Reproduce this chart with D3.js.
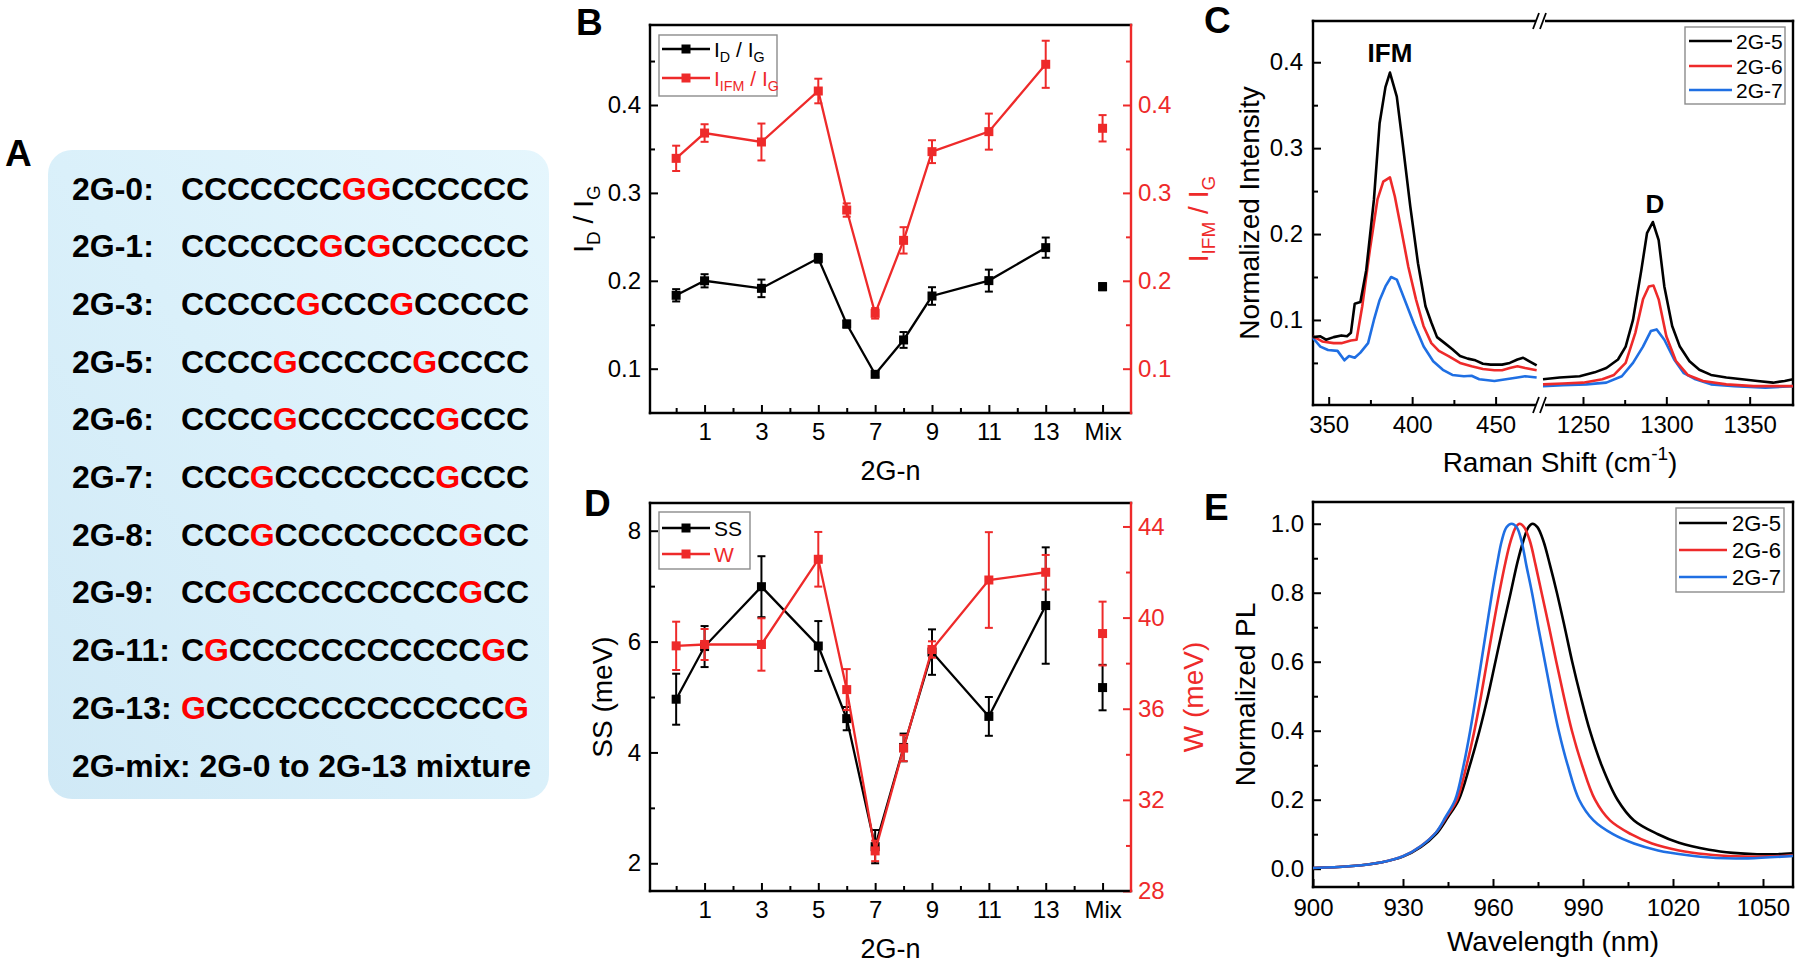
<!DOCTYPE html>
<html><head><meta charset="utf-8">
<script src="https://cdn.jsdelivr.net/npm/d3@7"></script>
<style>body{margin:0;background:#fff}</style>
</head><body>
<svg id="fig" width="1800" height="965" xmlns="http://www.w3.org/2000/svg"></svg>
<script>
// ================= DATA =================
// Panel A
const seqNames = ["2G-0:","2G-1:","2G-3:","2G-5:","2G-6:","2G-7:","2G-8:","2G-9:","2G-11:","2G-13:"];
const seqStrings = ["CCCCCCCGGCCCCCC","CCCCCCGCGCCCCCC","CCCCCGCCCGCCCCC","CCCCGCCCCCGCCCC","CCCCGCCCCCCGCCC",
                    "CCCGCCCCCCCGCCC","CCCGCCCCCCCCGCC","CCGCCCCCCCCCGCC","CGCCCCCCCCCCCGC","GCCCCCCCCCCCCCG"];
const mixText = "2G-mix: 2G-0 to 2G-13 mixture";

// Panels B & D (x = number of C between the two G; Mix placed at 15)
const nPos = [0,1,3,5,6,7,8,9,11,13];
const mixPos = 15;
const xTickVals = [1,3,5,7,9,11,13,15];
const xTickText = ["1","3","5","7","9","11","13","Mix"];
const xMinorVals = [0,2,4,6,8,10,12,14];

const idig    = [0.1835,0.2000,0.1914,0.2256,0.1508,0.0936,0.1327,0.1827,0.2002,0.2377];
const idigErr = [0.0070,0.0075,0.0100,0.0050,0.0040,0.0030,0.0090,0.0100,0.0125,0.0115];
const idigMix = 0.1933, idigMixErr = 0.004;
const ifmig    = [0.3393,0.3681,0.3579,0.4159,0.2805,0.1630,0.2460,0.3469,0.3697,0.4463];
const ifmigErr = [0.0144,0.0100,0.0210,0.0140,0.0076,0.0060,0.0150,0.0130,0.0205,0.0268];
const ifmigMix = 0.3735, ifmigMixErr = 0.015;
const bTicks = [0.1,0.2,0.3,0.4];
const bMinor = [0.15,0.25,0.35,0.45];

const ss    = [4.96,5.91,6.99,5.92,4.61,2.30,4.09,5.81,4.65,6.65];
const ssErr = [0.46,0.37,0.55,0.45,0.21,0.30,0.25,0.41,0.35,1.05];
const ssMix = 5.17, ssMixErr = 0.41;
const wv    = [38.76,38.82,38.82,42.56,36.84,29.76,34.27,38.60,41.65,41.99];
const wErr  = [1.06,0.68,1.15,1.20,0.90,0.45,0.57,0.36,2.10,0.76];
const wMix = 39.3, wMixErr = 1.4;
const dTicksL = [2,4,6,8], dMinorL = [3,5,7];
const dTicksR = [28,32,36,40,44], dMinorR = [30,34,38,42];

// Panel C (Raman, broken x axis)
const cTicksLeft = [350,400,450], cMinorLeft = [375,425];
const cTicksRight = [1250,1300,1350], cMinorRight = [1275,1325];
const cTicksY = [0.1,0.2,0.3,0.4], cMinorY = [0.05,0.15,0.25,0.35];
const raman5L = [[340.6,0.080],[345.0,0.081],[348.4,0.077],[353.0,0.080],[357.6,0.082],[361.0,0.081],[363.3,0.085],[365.6,0.119],[369.0,0.121],[372.5,0.158],[377.1,0.240],[380.5,0.329],[384.0,0.371],[386.7,0.388],[390.8,0.360],[394.3,0.306],[398.9,0.232],[403.5,0.166],[408.0,0.116],[411.5,0.097],[414.9,0.080],[419.5,0.073],[424.1,0.066],[428.7,0.058],[433.3,0.055],[437.9,0.053],[442.4,0.049],[447.0,0.048],[453.9,0.048],[458.5,0.050],[463.1,0.054],[466.5,0.056],[470.0,0.052],[474.6,0.047]];
const raman6L = [[340.6,0.081],[346.1,0.075],[353.0,0.073],[357.6,0.073],[363.3,0.076],[366.7,0.077],[370.1,0.116],[374.7,0.182],[379.2,0.240],[382.7,0.261],[386.7,0.266],[389.6,0.244],[393.1,0.209],[397.7,0.162],[402.3,0.124],[406.8,0.093],[411.5,0.073],[416.0,0.064],[421.8,0.058],[428.7,0.050],[435.6,0.046],[442.4,0.043],[449.3,0.0415],[453.9,0.0415],[458.5,0.044],[463.1,0.046],[467.7,0.044],[474.6,0.0415]];
const raman7L = [[340.6,0.079],[345.0,0.069],[349.6,0.065],[355.3,0.064],[359.4,0.053],[362.2,0.058],[365.6,0.056],[369.0,0.062],[373.6,0.073],[377.1,0.100],[380.5,0.123],[384.0,0.139],[387.4,0.150],[390.8,0.147],[395.4,0.124],[401.2,0.095],[406.9,0.069],[412.6,0.052],[418.4,0.042],[424.1,0.036],[431.0,0.0345],[435.6,0.035],[440.2,0.031],[449.3,0.029],[456.2,0.031],[463.1,0.033],[467.7,0.0345],[474.6,0.033]];
const raman5R = [[1226,0.031],[1236,0.033],[1248,0.0345],[1257,0.039],[1264,0.044],[1271,0.054],[1275.6,0.069],[1280,0.100],[1285,0.158],[1288.4,0.201],[1291.9,0.214],[1295.4,0.193],[1298.8,0.139],[1303.5,0.093],[1308.1,0.069],[1313.9,0.052],[1319.8,0.042],[1326.8,0.036],[1336,0.033],[1345.4,0.031],[1354.7,0.029],[1364,0.027],[1371,0.029],[1376,0.031]];
const raman6R = [[1226,0.025],[1238,0.026],[1250,0.027],[1261.6,0.031],[1268.6,0.036],[1275.6,0.050],[1281.4,0.085],[1286,0.124],[1289.5,0.139],[1292.3,0.140],[1295.4,0.124],[1300,0.081],[1305.8,0.052],[1312.8,0.036],[1322,0.029],[1336,0.025],[1352.3,0.023],[1376,0.023]];
const raman7R = [[1226,0.023],[1238,0.024],[1252,0.025],[1264,0.027],[1273.3,0.0345],[1280,0.050],[1286,0.069],[1290.7,0.087],[1294.2,0.089],[1298.8,0.077],[1304.7,0.054],[1310.5,0.038],[1317.5,0.031],[1326.8,0.025],[1340.8,0.023],[1359.4,0.021],[1376,0.023]];

// Panel E (PL)
const eTicksX = [900,930,960,990,1020,1050], eMinorX = [915,945,975,1005,1035];
const eTicksY = [0,0.2,0.4,0.6,0.8,1.0], eMinorY = [0.1,0.3,0.5,0.7,0.9];
const pl5 = [[900,0.002],[912,0.007],[923,0.019],[930,0.035],[936,0.063],[941,0.10],[945,0.15],[948.6,0.20],[952.3,0.30],[955.5,0.40],[958.3,0.50],[960.8,0.60],[963.3,0.70],[965.9,0.80],[968.2,0.89],[970.1,0.95],[971.8,0.99],[973.2,1.0],[974.8,0.99],[976.8,0.95],[979,0.88],[981.3,0.80],[983.9,0.70],[986.4,0.60],[989.2,0.50],[992.3,0.40],[996.2,0.30],[1001.5,0.20],[1007,0.14],[1015,0.10],[1022,0.075],[1032,0.055],[1040,0.046],[1048,0.042],[1054,0.042],[1060,0.045]];
const pl6 = [[900,0.002],[912,0.007],[923,0.019],[930,0.036],[936,0.066],[941,0.105],[944.5,0.15],[948,0.20],[951.2,0.30],[953.8,0.40],[956.0,0.50],[958.0,0.60],[960,0.70],[962.1,0.80],[964.2,0.89],[965.9,0.95],[967.6,0.99],[968.9,1.0],[970.4,0.99],[972.3,0.95],[974.2,0.88],[976.2,0.80],[978.7,0.70],[981.1,0.60],[983.6,0.50],[986.3,0.40],[989.7,0.30],[994,0.20],[999,0.14],[1006,0.10],[1013,0.073],[1022,0.053],[1031,0.042],[1041,0.036],[1050,0.035],[1060,0.038]];
const pl7 = [[900,0.002],[912,0.007],[923,0.019],[930,0.036],[936,0.066],[941,0.105],[944.2,0.15],[947.4,0.20],[950.2,0.30],[952.4,0.40],[954.3,0.50],[956.1,0.60],[957.9,0.70],[959.7,0.80],[961.3,0.88],[962.9,0.95],[964.5,0.99],[966.2,1.0],[967.9,0.99],[969.5,0.95],[971.1,0.88],[973,0.80],[975.1,0.70],[977.3,0.60],[979.5,0.50],[981.9,0.40],[984.9,0.30],[988.7,0.20],[993.5,0.14],[1000,0.10],[1007,0.073],[1015,0.053],[1025,0.039],[1034.4,0.031],[1045,0.030],[1060,0.037]];
const seriesNames = ["2G-5","2G-6","2G-7"];

// ================= DRAWING =================
const FONT = "'Liberation Sans', Arial, Helvetica, sans-serif";
const RED = "#ee2a2a", BLUE = "#1f6fe3", BLACK = "#000";
const seriesColors = [BLACK, RED, BLUE];
const svg = d3.select("#fig");
svg.append("rect").attr("width",1800).attr("height",965).attr("fill","#fff");

function rich(g, x, y, parts, o) {
  const fs = o.size;
  const t = g.append("text").attr("x", x).attr("y", y)
    .attr("font-size", fs).attr("font-family", FONT)
    .attr("fill", o.color || BLACK).attr("text-anchor", o.anchor || "start")
    .attr("font-weight", o.weight || "normal");
  if (o.rotate) t.attr("transform", `rotate(${o.rotate},${x},${y})`);
  let shift = 0;
  parts.forEach(p => {
    const s = Array.isArray(p) ? p[0] : p, k = Array.isArray(p) ? p[1] : "";
    const target = k === "sub" ? 0.24 * fs : (k === "sup" ? -0.42 * fs : 0);
    const ts = t.append("tspan").text(s);
    if (target - shift !== 0) ts.attr("dy", target - shift);
    if (k) ts.attr("font-size", fs * 0.68);
    shift = target;
  });
  return t;
}
function panelLetter(txt, x, y) {
  svg.append("text").attr("x", x).attr("y", y).text(txt)
    .attr("font-family", FONT).attr("font-weight", "bold").attr("font-size", 37);
}
function styleAxis(sel, color) {
  sel.select(".domain").remove();
  sel.attr("font-family", FONT).attr("font-size", 24);
  sel.selectAll("line").attr("stroke", color).attr("stroke-width", 2);
  sel.selectAll("text").attr("fill", color);
  return sel;
}
function frame(g, L, R, T, B, rightColor) {
  const lw = 2.4;
  g.append("line").attr("x1", L).attr("x2", R).attr("y1", T).attr("y2", T).attr("stroke", BLACK).attr("stroke-width", lw).attr("stroke-linecap","square");
  g.append("line").attr("x1", L).attr("x2", R).attr("y1", B).attr("y2", B).attr("stroke", BLACK).attr("stroke-width", lw).attr("stroke-linecap","square");
  g.append("line").attr("x1", L).attr("x2", L).attr("y1", T).attr("y2", B).attr("stroke", BLACK).attr("stroke-width", lw).attr("stroke-linecap","square");
  g.append("line").attr("x1", R).attr("x2", R).attr("y1", T).attr("y2", B).attr("stroke", rightColor || BLACK).attr("stroke-width", lw).attr("stroke-linecap","square");
}

// ---------- Panel A ----------
(function(){
  const g = svg.append("g");
  const defs = svg.append("defs");
  const grad = defs.append("linearGradient").attr("id","boxGrad").attr("x1","0").attr("y1","1").attr("x2","1").attr("y2","0");
  grad.append("stop").attr("offset","0").attr("stop-color","#d0e9f6");
  grad.append("stop").attr("offset","0.5").attr("stop-color","#daf0fa");
  grad.append("stop").attr("offset","1").attr("stop-color","#e5f6fd");
  g.append("rect").attr("x",48).attr("y",150).attr("width",501).attr("height",649).attr("rx",24)
    .attr("fill","url(#boxGrad)");
  const rows = d3.range(seqNames.length + 1);
  const y = d3.scalePoint().domain(rows).range([188, 765]);
  seqNames.forEach((name, i) => {
    const base = y(i) + 11.5;
    g.append("text").attr("x",72).attr("y",base).text(name)
      .attr("font-family",FONT).attr("font-weight","bold").attr("font-size",32).attr("fill",BLACK);
    const t = g.append("text").attr("x",181).attr("y",base)
      .attr("font-family",FONT).attr("font-weight","bold").attr("font-size",32)
      .attr("textLength",348).attr("lengthAdjust","spacing");
    seqStrings[i].split("").forEach(ch => {
      t.append("tspan").text(ch).attr("fill", ch === "G" ? "#ff0000" : BLACK);
    });
  });
  g.append("text").attr("x",72).attr("y",y(seqNames.length) + 11.5).text(mixText)
    .attr("font-family",FONT).attr("font-weight","bold").attr("font-size",32).attr("fill",BLACK)
    .attr("textLength",459).attr("lengthAdjust","spacingAndGlyphs");
  panelLetter("A", 5, 166);
})();

// ---------- Panels B & D ----------
function dualPanel(o) {
  const g = svg.append("g");
  const x = d3.scaleLinear().domain([-0.92, 16]).range([o.L, o.R]);
  const yL = d3.scaleLinear().domain(o.yLDom).range([o.B, o.T]);
  const yR = d3.scaleLinear().domain(o.yRDom).range([o.B, o.T]);
  styleAxis(g.append("g").attr("transform",`translate(0,${o.B})`)
    .call(d3.axisBottom(x).tickValues(xMinorVals).tickSize(-5).tickFormat("")), BLACK);
  styleAxis(g.append("g").attr("transform",`translate(0,${o.B})`)
    .call(d3.axisBottom(x).tickValues(xTickVals).tickSize(-8).tickPadding(10).tickFormat((d,i)=>xTickText[i])), BLACK);
  styleAxis(g.append("g").attr("transform",`translate(${o.L},0)`)
    .call(d3.axisLeft(yL).tickValues(o.minorL).tickSize(-5).tickFormat("")), BLACK);
  styleAxis(g.append("g").attr("transform",`translate(${o.L},0)`)
    .call(d3.axisLeft(yL).tickValues(o.ticksL).tickSize(-8).tickPadding(9).tickFormat(o.fmtL)), BLACK);
  styleAxis(g.append("g").attr("transform",`translate(${o.R},0)`)
    .call(d3.axisRight(yR).tickValues(o.minorR).tickSize(-5).tickFormat("")), RED);
  styleAxis(g.append("g").attr("transform",`translate(${o.R},0)`)
    .call(d3.axisRight(yR).tickValues(o.ticksR).tickSize(-8).tickPadding(7).tickFormat(o.fmtR)), RED);
  frame(g, o.L, o.R, o.T, o.B, RED);

  const series = [
    {vals:o.s1, err:o.e1, mix:o.m1, mixErr:o.me1, y:yL, color:BLACK},
    {vals:o.s2, err:o.e2, mix:o.m2, mixErr:o.me2, y:yR, color:RED}
  ];
  series.forEach(s => {
    const pts = nPos.map((n,i)=>({n, v:s.vals[i], e:s.err[i]}));
    pts.push({n:mixPos, v:s.mix, e:s.mixErr, mix:true});
    const line = d3.line().x(d=>x(d.n)).y(d=>s.y(d.v));
    g.append("path").datum(pts.filter(d=>!d.mix)).attr("d", line)
      .attr("fill","none").attr("stroke", s.color).attr("stroke-width", 2.3);
    const eb = g.append("g").attr("stroke", s.color).attr("stroke-width", 2);
    pts.forEach(d => {
      const cx = x(d.n), y1 = s.y(d.v - d.e), y2 = s.y(d.v + d.e);
      eb.append("line").attr("x1",cx).attr("x2",cx).attr("y1",y1).attr("y2",y2);
      eb.append("line").attr("x1",cx-4).attr("x2",cx+4).attr("y1",y1).attr("y2",y1);
      eb.append("line").attr("x1",cx-4).attr("x2",cx+4).attr("y1",y2).attr("y2",y2);
    });
    g.selectAll(null).data(pts).enter().append("rect")
      .attr("x", d=>x(d.n)-4.5).attr("y", d=>s.y(d.v)-4.5).attr("width",9).attr("height",9)
      .attr("fill", s.color);
  });

  const lg = g.append("g");
  lg.append("rect").attr("x",o.legX).attr("y",o.legY).attr("width",o.legW).attr("height",o.legH)
    .attr("fill","#fff").attr("stroke","#8c8c8c").attr("stroke-width",1.4);
  o.legRows.forEach((ry, i) => {
    const c = i === 0 ? BLACK : RED;
    lg.append("line").attr("x1",o.legX+3).attr("x2",o.legX+51).attr("y1",ry).attr("y2",ry)
      .attr("stroke",c).attr("stroke-width",2.3);
    lg.append("rect").attr("x",o.legX+22.5).attr("y",ry-4.5).attr("width",9).attr("height",9).attr("fill",c);
    rich(lg, o.legX+55, ry+7.5, o.legText[i], {size:21, color:c});
  });
  rich(g, (o.L+o.R)/2, o.xTitleY, ["2G-n"], {size:27, anchor:"middle"});
  rich(g, o.yLTitleX, (o.T+o.B)/2, o.yLTitle, {size:28, anchor:"middle", rotate:-90});
  rich(g, o.yRTitleX, (o.T+o.B)/2, o.yRTitle, {size:28, anchor:"middle", rotate:-90, color:RED});
}

dualPanel({
  L:650, R:1131, T:25, B:413,
  yLDom:[0.0496, 0.4910], yRDom:[0.0496, 0.4910],
  ticksL:bTicks, minorL:bMinor, ticksR:bTicks, minorR:bMinor,
  fmtL:d3.format(".1f"), fmtR:d3.format(".1f"),
  s1:idig, e1:idigErr, m1:idigMix, me1:idigMixErr,
  s2:ifmig, e2:ifmigErr, m2:ifmigMix, me2:ifmigMixErr,
  legX:659, legY:35, legW:118, legH:61, legRows:[49,78],
  legText:[["I",["D","sub"]," / I",["G","sub"]], ["I",["IFM","sub"]," / I",["G","sub"]]],
  xTitleY:480, yLTitleX:593, yRTitleX:1208,
  yLTitle:["I",["D","sub"]," / I",["G","sub"]],
  yRTitle:["I",["IFM","sub"]," / I",["G","sub"]]
});
panelLetter("B", 576, 35);

dualPanel({
  L:650, R:1131, T:503, B:891,
  yLDom:[1.5, 8.5], yRDom:[28, 45.03],
  ticksL:dTicksL, minorL:dMinorL, ticksR:dTicksR, minorR:dMinorR,
  fmtL:d3.format("d"), fmtR:d3.format("d"),
  s1:ss, e1:ssErr, m1:ssMix, me1:ssMixErr,
  s2:wv, e2:wErr, m2:wMix, me2:wMixErr,
  legX:659, legY:512, legW:91, legH:57, legRows:[528,554],
  legText:[["SS"],["W"]],
  xTitleY:958, yLTitleX:612, yLTitle:["SS (meV)"],
  yRTitleX:1203, yRTitle:["W (meV)"]
});
panelLetter("D", 584, 516);

// ---------- Panel C ----------
(function(){
  const L=1313, R=1793, T=21, B=405, brk=1540;
  const g = svg.append("g");
  const xL = d3.scaleLinear().domain([340.6, 476]).range([L, brk-1]);
  const xR = d3.scaleLinear().domain([1226, 1376]).range([brk+3, R]);
  const y = d3.scaleLinear().domain([0.001, 0.448]).range([B, T]);
  [[xL,cTicksLeft,cMinorLeft],[xR,cTicksRight,cMinorRight]].forEach(([sx,maj,min])=>{
    styleAxis(g.append("g").attr("transform",`translate(0,${B})`)
      .call(d3.axisBottom(sx).tickValues(min).tickSize(-5).tickFormat("")), BLACK);
    styleAxis(g.append("g").attr("transform",`translate(0,${B})`)
      .call(d3.axisBottom(sx).tickValues(maj).tickSize(-8).tickPadding(11).tickFormat(d3.format("d"))), BLACK);
  });
  styleAxis(g.append("g").attr("transform",`translate(${L},0)`)
    .call(d3.axisLeft(y).tickValues(cMinorY).tickSize(-5).tickFormat("")), BLACK);
  styleAxis(g.append("g").attr("transform",`translate(${L},0)`)
    .call(d3.axisLeft(y).tickValues(cTicksY).tickSize(-8).tickPadding(10).tickFormat(d3.format(".1f"))), BLACK);
  frame(g, L, R, T, B);
  [T, B].forEach(yy => {
    g.append("rect").attr("x",brk-4).attr("y",yy-3).attr("width",9).attr("height",6).attr("fill","#fff");
    [-4, 3].forEach(off => {
      g.append("line").attr("x1",brk+off-3).attr("x2",brk+off+3).attr("y1",yy+8).attr("y2",yy-8)
        .attr("stroke",BLACK).attr("stroke-width",1.8);
    });
  });
  const leftSets = [raman5L, raman6L, raman7L], rightSets = [raman5R, raman6R, raman7R];
  [2,1,0].forEach(i => {
    g.append("path").datum(leftSets[i]).attr("d", d3.line().x(d=>xL(d[0])).y(d=>y(d[1])))
      .attr("fill","none").attr("stroke",seriesColors[i]).attr("stroke-width",2.6).attr("stroke-linejoin","round");
    g.append("path").datum(rightSets[i]).attr("d", d3.line().x(d=>xR(d[0])).y(d=>y(d[1])))
      .attr("fill","none").attr("stroke",seriesColors[i]).attr("stroke-width",2.6).attr("stroke-linejoin","round");
  });
  g.append("text").attr("x",1390).attr("y",62).attr("text-anchor","middle").text("IFM")
    .attr("font-family",FONT).attr("font-weight","bold").attr("font-size",26);
  g.append("text").attr("x",1655).attr("y",213).attr("text-anchor","middle").text("D")
    .attr("font-family",FONT).attr("font-weight","bold").attr("font-size",26);
  const lg = g.append("g");
  lg.append("rect").attr("x",1685).attr("y",27).attr("width",100).attr("height",77)
    .attr("fill","#fff").attr("stroke","#8c8c8c").attr("stroke-width",1.4);
  [41,66,90].forEach((ry,i)=>{
    lg.append("line").attr("x1",1689).attr("x2",1732).attr("y1",ry).attr("y2",ry)
      .attr("stroke",seriesColors[i]).attr("stroke-width",2.6);
    rich(lg, 1736, ry+7.5, [seriesNames[i]], {size:21});
  });
  rich(g, 1560, 472, ["Raman Shift (cm",["-1","sup"],")"], {size:28, anchor:"middle"});
  rich(g, 1259, (T+B)/2, ["Normalized Intensity"], {size:28, anchor:"middle", rotate:-90});
  panelLetter("C", 1204, 33);
})();

// ---------- Panel E ----------
(function(){
  const L=1313, R=1793, T=502, B=887;
  const g = svg.append("g");
  const x = d3.scaleLinear().domain([900, 1060]).range([L, R]);
  const y = d3.scaleLinear().domain([-0.053, 1.063]).range([B, T]);
  styleAxis(g.append("g").attr("transform",`translate(0,${B})`)
    .call(d3.axisBottom(x).tickValues(eMinorX).tickSize(-5).tickFormat("")), BLACK);
  styleAxis(g.append("g").attr("transform",`translate(0,${B})`)
    .call(d3.axisBottom(x).tickValues(eTicksX).tickSize(-8).tickPadding(12).tickFormat(d3.format("d"))), BLACK);
  styleAxis(g.append("g").attr("transform",`translate(${L},0)`)
    .call(d3.axisLeft(y).tickValues(eMinorY).tickSize(-5).tickFormat("")), BLACK);
  styleAxis(g.append("g").attr("transform",`translate(${L},0)`)
    .call(d3.axisLeft(y).tickValues(eTicksY).tickSize(-8).tickPadding(9).tickFormat(d3.format(".1f"))), BLACK);
  frame(g, L, R, T, B);
  const sets = [pl5, pl6, pl7];
  [0,1,2].forEach(i => {
    g.append("path").datum(sets[i]).attr("d", d3.line().curve(d3.curveCatmullRom.alpha(0.5)).x(d=>x(d[0])).y(d=>y(d[1])))
      .attr("fill","none").attr("stroke",seriesColors[i]).attr("stroke-width",2.6);
  });
  const lg = g.append("g");
  lg.append("rect").attr("x",1676).attr("y",508).attr("width",108).attr("height",84)
    .attr("fill","#fff").attr("stroke","#8c8c8c").attr("stroke-width",1.4);
  [523,550,577].forEach((ry,i)=>{
    lg.append("line").attr("x1",1679).attr("x2",1727).attr("y1",ry).attr("y2",ry)
      .attr("stroke",seriesColors[i]).attr("stroke-width",2.6);
    rich(lg, 1732, ry+8, [seriesNames[i]], {size:22});
  });
  rich(g, 1553, 951, ["Wavelength (nm)"], {size:28, anchor:"middle"});
  rich(g, 1255, (T+B)/2, ["Normalized PL"], {size:28, anchor:"middle", rotate:-90});
  panelLetter("E", 1204, 520);
})();
</script>
</body></html>
